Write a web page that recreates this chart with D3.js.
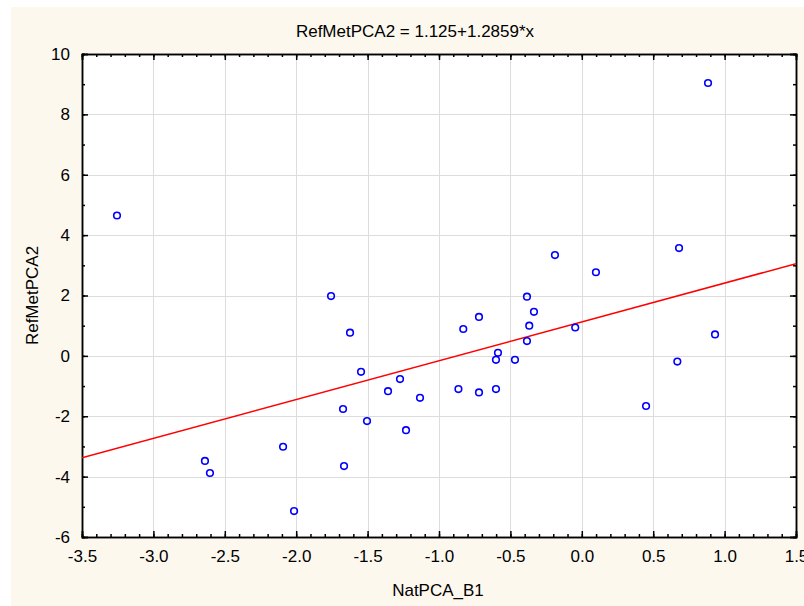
<!DOCTYPE html>
<html>
<head>
<meta charset="utf-8">
<script src="https://cdn.jsdelivr.net/npm/d3@7"></script>
<style>
  body { margin: 0; background: #fff; }
  text { font-family: "Liberation Sans", Arial, sans-serif; fill: #000; }
</style>
</head>
<body>
<div id="target"></div>
<script>
// scatter values
let natPCA = [-3.255, -1.756, -1.623, -1.546, -1.357, -1.273, -1.672, -1.504, -1.133, -1.231,
  -1.665, -2.092, -2.015, -2.639, -2.604, -0.830, -0.720, -0.864, -0.720, -0.601,
  -0.601, -0.587, -0.468, -0.384, -0.335, -0.368, -0.384, -0.188, -0.046, 0.099,
  0.450, 0.669, 0.681, 0.933, 0.884]
let refMet = [4.65, 1.98, 0.77, -0.53, -1.17, -0.77, -1.76, -2.16, -1.39, -2.46,
  -3.65, -3.01, -5.14, -3.48, -3.88, 0.89, 1.29, -1.10, -1.21, -1.10,
  -0.13, 0.10, -0.13, 1.96, 1.46, 1.00, 0.49, 3.34, 0.94, 2.77,
  -1.66, -0.19, 3.57, 0.71, 9.04]
let intercept = 1.125
let slope = 1.2859
let xTicks = [-3.5, -3.0, -2.5, -2.0, -1.5, -1.0, -0.5, 0.0, 0.5, 1.0, 1.5]
let yTicks = [-6, -4, -2, 0, 2, 4, 6, 8, 10]

let W = 804, H = 606
let plot = { left: 82, right: 796, top: 54, bottom: 537 }
let fs = 17

let svg = d3.select("#target").append("svg").attr("width", W).attr("height", H)
svg.append("rect").attr("x", 11).attr("y", 7).attr("width", W - 11).attr("height", H - 7).attr("fill", "#fdf8ee")

let x = d3.scaleLinear().domain([-3.5, 1.5]).range([plot.left, plot.right])
let y = d3.scaleLinear().domain([-6, 10]).range([plot.bottom, plot.top])

svg.append("rect")
  .attr("x", plot.left).attr("y", plot.top)
  .attr("width", plot.right - plot.left).attr("height", plot.bottom - plot.top)
  .attr("fill", "#fff")

// grid
let grid = svg.append("g").attr("stroke", "#dcdcdc").attr("stroke-width", 1)
grid.selectAll(".gx").data(xTicks.slice(1, -1)).enter().append("line")
  .attr("x1", d => Math.round(x(d)) + 0.5).attr("x2", d => Math.round(x(d)) + 0.5)
  .attr("y1", plot.top).attr("y2", plot.bottom)
grid.selectAll(".gy").data(yTicks.slice(1, -1)).enter().append("line")
  .attr("y1", d => Math.round(y(d)) + 0.5).attr("y2", d => Math.round(y(d)) + 0.5)
  .attr("x1", plot.left).attr("x2", plot.right)

// axes, ticks inward on all four sides
let xMinor = d3.range(-3.5, 1.5001, 0.1)
let yMinor = d3.range(-6, 10.001, 1)
let plainMinus = f => v => f(v).replace("\u2212", "-")

let bottomAx = d3.axisBottom(x).tickValues(xTicks).tickSize(-6).tickFormat(plainMinus(d3.format(".1f"))).tickPadding(13)
let bottomMinor = d3.axisBottom(x).tickValues(xMinor).tickSize(-3).tickFormat("")
let topAx = d3.axisTop(x).tickValues(xTicks).tickSize(-6).tickFormat("")
let topMinor = d3.axisTop(x).tickValues(xMinor).tickSize(-3).tickFormat("")
let leftAx = d3.axisLeft(y).tickValues(yTicks).tickSize(-6).tickFormat(plainMinus(d3.format("d"))).tickPadding(12)
let leftMinor = d3.axisLeft(y).tickValues(yMinor).tickSize(-3).tickFormat("")
let rightAx = d3.axisRight(y).tickValues(yTicks).tickSize(-6).tickFormat("")
let rightMinor = d3.axisRight(y).tickValues(yMinor).tickSize(-3).tickFormat("")

let styleAxis = g => {
  g.select(".domain").attr("stroke", "#000").attr("stroke-width", 1.5)
  g.selectAll(".tick line").attr("stroke", "#000").attr("stroke-width", 1.5)
  g.selectAll("text").attr("font-size", fs).attr("font-family", "Liberation Sans, Arial, sans-serif")
}

svg.append("g").attr("transform", `translate(0,${plot.bottom})`).call(bottomMinor).call(styleAxis)
svg.append("g").attr("transform", `translate(0,${plot.bottom})`).call(bottomAx).call(styleAxis)
svg.append("g").attr("transform", `translate(0,${plot.top})`).call(topMinor).call(styleAxis)
svg.append("g").attr("transform", `translate(0,${plot.top})`).call(topAx).call(styleAxis)
svg.append("g").attr("transform", `translate(${plot.left},0)`).call(leftMinor).call(styleAxis)
svg.append("g").attr("transform", `translate(${plot.left},0)`).call(leftAx).call(styleAxis)
svg.append("g").attr("transform", `translate(${plot.right},0)`).call(rightMinor).call(styleAxis)
svg.append("g").attr("transform", `translate(${plot.right},0)`).call(rightAx).call(styleAxis)

// fit line
svg.append("clipPath").attr("id", "clip").append("rect")
  .attr("x", plot.left).attr("y", plot.top)
  .attr("width", plot.right - plot.left).attr("height", plot.bottom - plot.top)
let fitX = x.domain()
svg.append("line")
  .attr("clip-path", "url(#clip)")
  .attr("x1", x(fitX[0])).attr("y1", y(intercept + slope * fitX[0]))
  .attr("x2", x(fitX[1])).attr("y2", y(intercept + slope * fitX[1]))
  .attr("stroke", "#ff0000").attr("stroke-width", 1.5)

// points
let pts = natPCA.map((v, i) => ({ x: v, y: refMet[i] }))
svg.append("g").selectAll("circle").data(pts).enter().append("circle")
  .attr("cx", d => x(d.x)).attr("cy", d => y(d.y)).attr("r", 3.3)
  .attr("fill", "none").attr("stroke", "#0000ff").attr("stroke-width", 1.6)

// titles
svg.append("text").attr("x", 415).attr("y", 37).attr("text-anchor", "middle")
  .attr("font-size", fs).text(`RefMetPCA2 = ${intercept}+${slope}*x`)
svg.append("text").attr("x", 438).attr("y", 596).attr("text-anchor", "middle")
  .attr("font-size", fs).text("NatPCA_B1")
svg.append("text").attr("transform", `translate(38,${(plot.top + plot.bottom) / 2}) rotate(-90)`)
  .attr("text-anchor", "middle").attr("font-size", fs).text("RefMetPCA2")
</script>
</body>
</html>
